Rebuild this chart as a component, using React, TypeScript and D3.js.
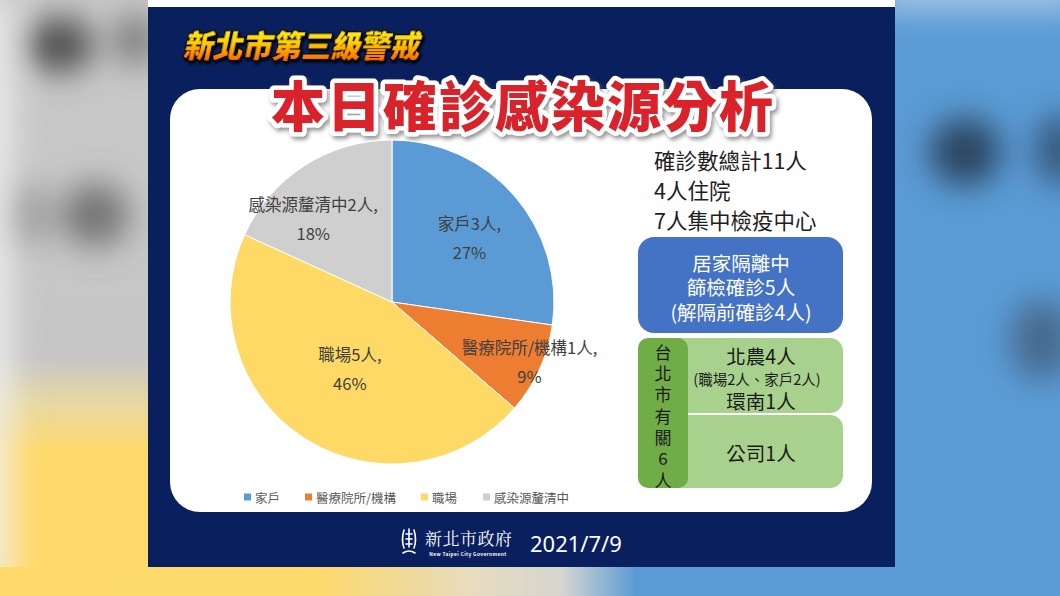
import React from 'react';
import * as d3 from 'd3';

// ---------- data ----------
const categories = ['家戶', '醫療院所/機構', '職場', '感染源釐清中'];
const counts = [3, 1, 5, 2];
const percentLabels = ['27%', '9%', '46%', '18%'];
const sliceColors = ['#5b9bd5', '#ed7d31', '#ffd966', '#d0cfcf'];
const titleSmall = '新北市第三級警戒';
const titleBig = '本日確診感染源分析';
const summaryLines = ['確診數總計11人', '4人住院', '7人集中檢疫中心'];
const quarantineLines = ['居家隔離中', '篩檢確診5人', '(解隔前確診4人)'];
const taipeiChars = ['台', '北', '市', '有', '關', '6', '人'];
const taipeiBox1 = ['北農4人', '(職場2人、家戶2人)', '環南1人'];
const taipeiBox2 = ['公司1人'];
const footerDate = '2021/7/9';
const footerOrg = '新北市政府';
const footerOrgEn = 'New Taipei City Government';

// ---------- layout (not data) ----------
const W = 1060;
const H = 596;
const FONT = "'Noto Sans CJK TC', 'Noto Sans', sans-serif";
const CX = 392;
const CY = 302;
const R = 162;
const labelPlacement = [
  { r: 101, da: 1 },
  { r: 150, da: -1 },
  { r: 79, da: -0.5 },
  { r: 115, da: -10.5 },
];

export default function App() {
  const pie = d3
    .pie<number>()
    .sort(null)
    .value((d) => d)
    .startAngle(0)
    .endAngle(2 * Math.PI);
  const arcs = pie(counts);
  const arcGen = d3.arc<d3.PieArcDatum<number>>().innerRadius(0).outerRadius(R);

  const legendX = d3.scaleOrdinal<string, number>().domain(categories).range([244, 305, 421, 483]);

  const taipeiY = d3
    .scalePoint<string>()
    .domain(taipeiChars.map((c, i) => i + c))
    .range([351, 479]);

  return (
    <svg
      width={W}
      height={H}
      viewBox={`0 0 ${W} ${H}`}
      style={{ position: 'absolute', left: 0, top: 0, display: 'block' }}
      fontFamily={FONT}
    >
      <defs>
        <filter id="bgblur" x="-30%" y="-30%" width="160%" height="160%">
          <feGaussianBlur stdDeviation="16" />
        </filter>
        <linearGradient id="bottomStrip" x1="0" x2="1" y1="0" y2="0">
          <stop offset="0%" stopColor="#ffd96a" />
          <stop offset="30%" stopColor="#fdd96c" />
          <stop offset="45%" stopColor="#e6dcc0" />
          <stop offset="53%" stopColor="#d6d6d0" />
          <stop offset="60%" stopColor="#5b9bd5" />
          <stop offset="100%" stopColor="#5b9bd5" />
        </linearGradient>
        <linearGradient id="leftBg" x1="0" x2="0" y1="0" y2="1">
          <stop offset="0%" stopColor="#c8c8c8" />
          <stop offset="60%" stopColor="#c6c6c6" />
          <stop offset="68%" stopColor="#e8d9a0" />
          <stop offset="76%" stopColor="#ffd96a" />
          <stop offset="100%" stopColor="#ffd96a" />
        </linearGradient>
        <linearGradient id="titleGrad" x1="0" x2="0" y1="0" y2="1">
          <stop offset="0%" stopColor="#fffb3a" />
          <stop offset="45%" stopColor="#ffd200" />
          <stop offset="80%" stopColor="#ff7a00" />
          <stop offset="100%" stopColor="#e84000" />
        </linearGradient>
        <filter id="shadowBlack" x="-10%" y="-30%" width="130%" height="170%">
          <feDropShadow dx="2" dy="2.5" stdDeviation="0.8" floodColor="#000" floodOpacity="0.9" />
        </filter>
        <filter id="shadowGray" x="-10%" y="-30%" width="130%" height="170%">
          <feDropShadow dx="2" dy="3" stdDeviation="2" floodColor="#666" floodOpacity="0.7" />
        </filter>
        <clipPath id="leftClip">
          <rect x={0} y={0} width={148} height={H} />
        </clipPath>
        <clipPath id="rightClip">
          <rect x={895} y={0} width={W - 895} height={H} />
        </clipPath>
      </defs>

      {/* blurred background */}
      <g clipPath="url(#leftClip)">
        <rect x={0} y={0} width={148} height={H} fill="url(#leftBg)" />
        <g filter="url(#bgblur)">
          <ellipse cx={60} cy={45} rx={34} ry={28} fill="#505050" />
          <ellipse cx={135} cy={40} rx={22} ry={26} fill="#7a7a7a" />
          <ellipse cx={95} cy={215} rx={34} ry={32} fill="#747474" />
          <ellipse cx={25} cy={215} rx={24} ry={32} fill="#9a9a9a" />
          <rect x={-20} y={0} width={30} height={H} fill="#f0f0f0" />
        </g>
      </g>
      <g clipPath="url(#rightClip)">
        <rect x={895} y={0} width={W - 895} height={H} fill="#5b9bd5" />
        <g filter="url(#bgblur)">
          <rect x={880} y={-20} width={200} height={28} fill="#b6d0ec" />
          <ellipse cx={965} cy={152} rx={36} ry={34} fill="#2a4560" />
          <ellipse cx={1060} cy={150} rx={26} ry={36} fill="#35587c" />
          <ellipse cx={1042} cy={340} rx={32} ry={40} fill="#46698d" />
        </g>
      </g>
      <rect x={0} y={567} width={W} height={H - 567} fill="url(#bottomStrip)" />

      {/* navy panel */}
      <rect x={148} y={7} width={747} height={560} fill="#0a1f5e" />
      {/* white card */}
      <rect x={170} y={89} width={702} height={423} rx={30} ry={30} fill="#ffffff" />

      {/* small title */}
      <g transform="translate(183,57) skewX(-12)">
        <text
          x={0}
          y={0}
          fontSize={29.5}
          fontWeight={900}
          fill="url(#titleGrad)"
          stroke="#000"
          strokeWidth={2.2}
          paintOrder="stroke"
          filter="url(#shadowBlack)"
        >
          {titleSmall}
        </text>
      </g>

      {/* big title */}
      <text
        x={523}
        y={103}
        fontSize={54}
        fontWeight={900}
        textAnchor="middle"
        dominantBaseline="central"
        fill="#d9242b"
        stroke="#ffffff"
        strokeWidth={9}
        strokeLinejoin="round"
        paintOrder="stroke"
        filter="url(#shadowGray)"
        letterSpacing={2}
      >
        {titleBig}
      </text>

      {/* pie */}
      <g transform={`translate(${CX},${CY})`}>
        {arcs.map((a, i) => (
          <path key={categories[i]} d={arcGen(a) || ''} fill={sliceColors[i]} stroke="#ffffff" strokeWidth={1} />
        ))}
        {arcs.map((a, i) => {
          const mid = (a.startAngle + a.endAngle) / 2 + (labelPlacement[i].da * Math.PI) / 180;
          const r = labelPlacement[i].r;
          const x = r * Math.sin(mid);
          const y = -r * Math.cos(mid);
          return (
            <g key={'l' + i} transform={`translate(${x},${y})`} fontSize={16.5} fill="#404040" textAnchor="middle">
              <text y={-14.5} dominantBaseline="central">
                {`${categories[i]}${counts[i]}人,`}
              </text>
              <text y={14.5} dominantBaseline="central">
                {percentLabels[i]}
              </text>
            </g>
          );
        })}
      </g>

      {/* legend */}
      <g fontSize={12.5} fill="#595959">
        {categories.map((c, i) => (
          <g key={'lg' + c}>
            <rect x={legendX(c)} y={493.5} width={7} height={7} fill={sliceColors[i]} />
            <text x={(legendX(c) as number) + 11} y={497} dominantBaseline="central">
              {c}
            </text>
          </g>
        ))}
      </g>

      {/* summary text */}
      <g fontSize={21.5} fill="#1e1e1e">
        {summaryLines.map((t, i) => (
          <text key={t} x={654} y={159 + i * 30} dominantBaseline="central">
            {t}
          </text>
        ))}
      </g>

      {/* blue box */}
      <rect x={638} y={237} width={205} height={96} rx={16} fill="#4472c4" />
      <g fontSize={19.5} fill="#ffffff" textAnchor="middle">
        {quarantineLines.map((t, i) => (
          <text key={t} x={741} y={262 + i * 24.5} dominantBaseline="central">
            {t}
          </text>
        ))}
      </g>

      {/* green boxes */}
      <rect x={638} y={338} width={205} height={75} rx={13} fill="#a9d18e" />
      <rect x={638} y={415} width={205} height={73} rx={13} fill="#a9d18e" />
      <rect x={638} y={338} width={50} height={150} rx={10} fill="#70ad47" />
      <g fontSize={17} fill="#1a1a1a" textAnchor="middle">
        {taipeiChars.map((c, i) => (
          <text key={'t' + i} x={663} y={taipeiY(i + c)} dominantBaseline="central">
            {c}
          </text>
        ))}
      </g>
      <g fill="#1a1a1a" textAnchor="middle">
        <text x={761} y={355} fontSize={19.5} dominantBaseline="central">
          {taipeiBox1[0]}
        </text>
        <text x={757} y={378} fontSize={14.5} dominantBaseline="central">
          {taipeiBox1[1]}
        </text>
        <text x={761} y={400} fontSize={19.5} dominantBaseline="central">
          {taipeiBox1[2]}
        </text>
        <text x={761} y={452} fontSize={19.5} dominantBaseline="central">
          {taipeiBox2[0]}
        </text>
      </g>

      {/* footer logo */}
      <g stroke="#ffffff" fill="none" strokeWidth={1.6} strokeLinecap="round">
        <path d="M404,530 Q401,540 404,548" />
        <path d="M414,530 Q417,540 414,548" />
        <path d="M406,534 L412,534 M406,539 L412,539 M406,544 L412,544" />
        <path d="M409,529 L409,547" />
        <path d="M403,553 Q409,549 415,553" />
      </g>
      <text x={425} y={537} fontSize={17} fill="#ffffff" fontFamily="'Noto Serif CJK TC', 'Noto Sans CJK TC', serif" dominantBaseline="central" letterSpacing={0.5}>
        {footerOrg}
      </text>
      <text x={468} y={553} fontSize={4.8} fill="#ffffff" textAnchor="middle" fontWeight={700} dominantBaseline="central" letterSpacing={0.4}>
        {footerOrgEn}
      </text>
      <text x={530} y={543} fontSize={22} fill="#ffffff" fontFamily="'Noto Sans', sans-serif" dominantBaseline="central">
        {footerDate}
      </text>
    </svg>
  );
}
